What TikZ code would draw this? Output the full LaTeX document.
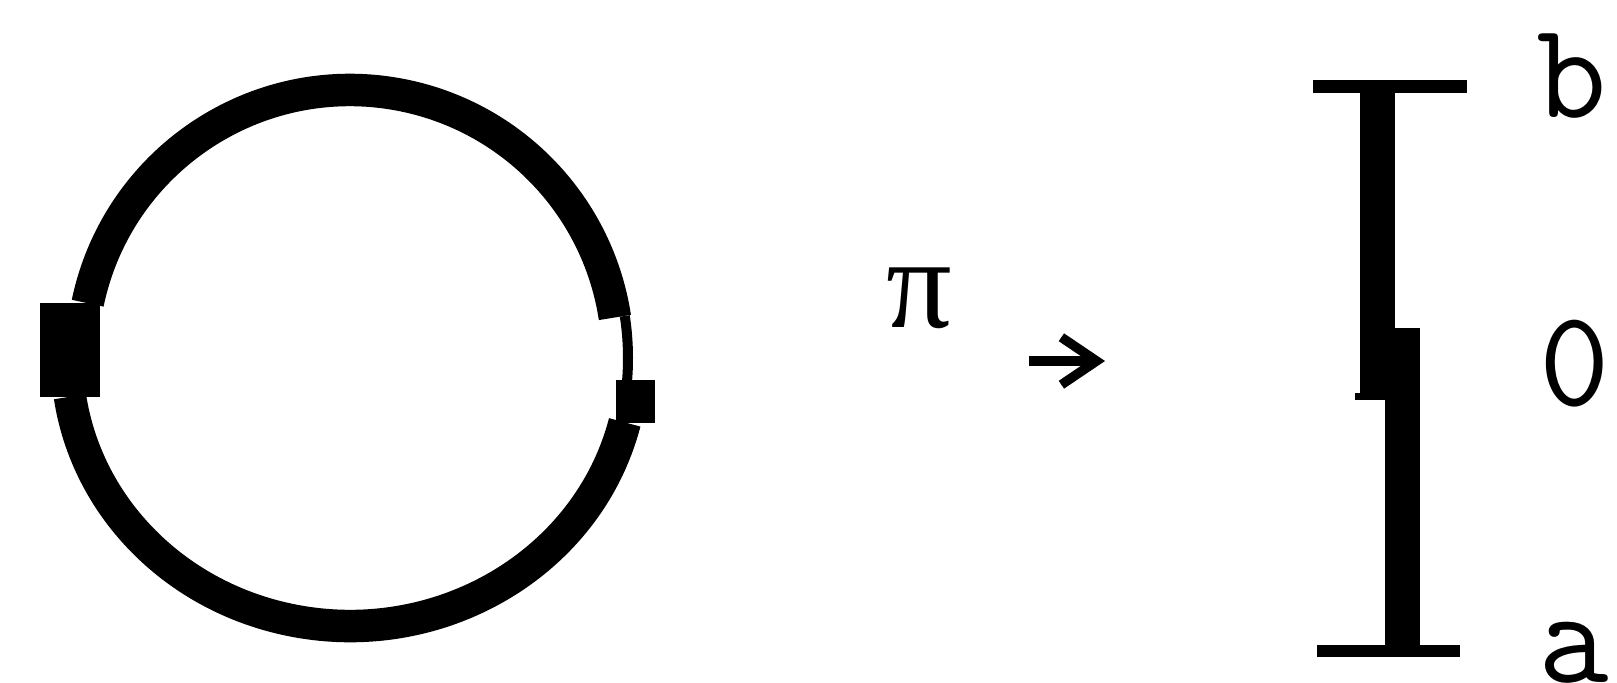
\documentclass[tikz,border=0pt]{standalone}
\usepackage{fontspec}
\newfontfamily\greekfont{Liberation Serif}
\usetikzlibrary{arrows.meta}
\tikzset{
  ring/.style={line width=18.5pt},
  thinring/.style={line width=5.7pt},
  lbl/.style={font=\fontsize{78}{80}\selectfont\ttfamily, inner sep=0pt},
}
\begin{document}
\begin{tikzpicture}[x=0.02cm, y=-0.02cm, >={Straight Barb[length=20pt, width=27pt]}]
		\useasboundingbox (0,0) rectangle (1617,683);
		
		% Circle
		\coordinate (c) at (350,358);
		\draw[ring] (c) ++(191.8:268) arc[start angle=191.8, end angle=351.3, radius=268];
		\draw[ring] (c) ++(13.9:283 and 268) arc[start angle=13.9, end angle=171.7, x radius=283, y radius=268];
		\draw[thinring] (c) ++(-8.7:278) arc[start angle=-8.7, end angle=5, radius=278];
		\fill (40,303) rectangle (100,397);
		\fill (616,380) rectangle (655,423);
		
		% Map
		\node[inner sep=0pt, font=\fontsize{74}{76}\selectfont\greekfont] (pi) at (919,298) {π};
		\coordinate (arrS) at (1029,361);
		\coordinate (arrE) at (1105,361);
		\draw[->, line width=5.4pt] (arrS) -- (arrE);
		
		% Interval
		\fill (1313,80) rectangle (1467,93);
		\fill (1317,645) rectangle (1460,657);
		\fill (1360,93) rectangle (1395,400);
		\fill (1355,393) rectangle (1395,400);
		\fill (1385,328) rectangle (1420,645);
		
		% Labels
		\node[lbl, anchor=base] (b) at (1572,117) {b};
		\node[lbl, anchor=base] (zero) at (1575,405) {0};
		\node[lbl, anchor=base] (a) at (1574,682) {a};
		
	\end{tikzpicture}
\end{document}
